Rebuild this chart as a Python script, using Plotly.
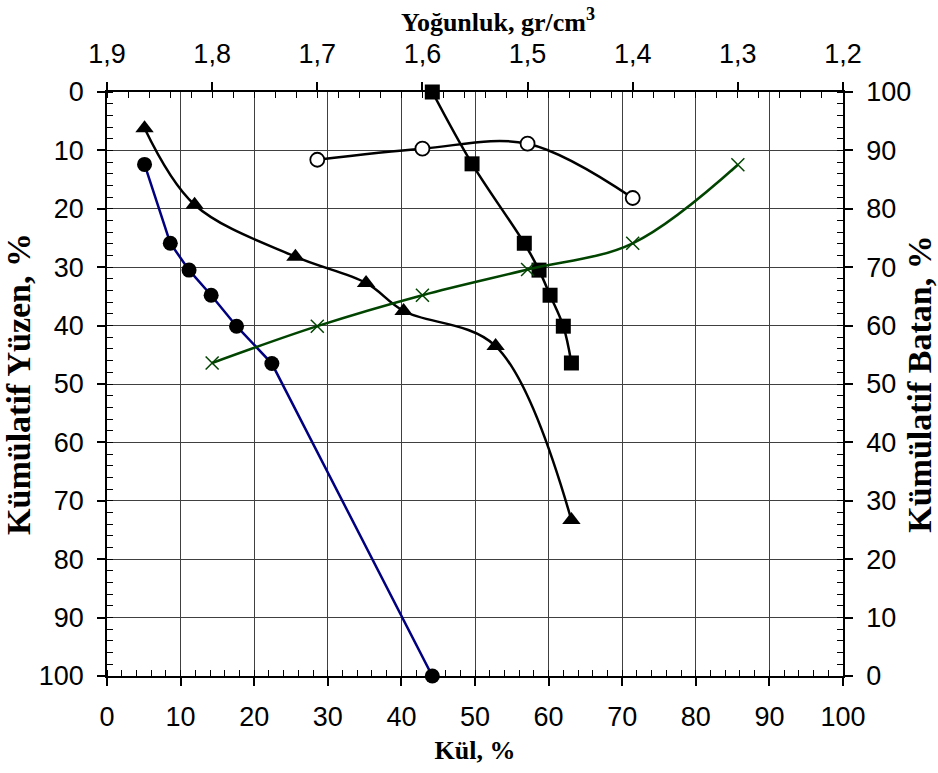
import plotly.graph_objects as go

# Float curve: cumulative ash (%) vs cumulative floats (%)
ash_float = [5.1, 8.6, 11.15, 14.15, 17.6, 22.4, 44.2]
cum_float = [12.4, 25.9, 30.5, 34.8, 40.1, 46.5, 100]

# Primary (elementary) curve: fraction ash vs mid-point of cumulative floats
ash_primary = [5.1, 11.9, 25.6, 35.2, 40.3, 52.8, 63.1]
mid_float = [6.2, 19.3, 28.2, 32.7, 37.5, 43.5, 73.3]

# Sink curve: cumulative sink ash vs cumulative sinks (right axis)
ash_sink = [44.2, 49.6, 56.7, 58.7, 60.2, 62.0, 63.1]
cum_sink = [100, 87.7, 74.1, 69.5, 65.2, 59.9, 53.6]

# Density curve: separation density vs cumulative floats
density_pts = [1.8, 1.7, 1.6, 1.5, 1.4, 1.3]
float_at_density = [46.4, 40.1, 34.8, 30.4, 25.9, 12.45]

# Near-gravity (+/-0.1) curve
near_density = [1.7, 1.6, 1.5, 1.4]
near_gravity = [11.6, 9.7, 8.85, 18.15]

# Top axis tick labels (density)
density_ticks = [1.9, 1.8, 1.7, 1.6, 1.5, 1.4, 1.3, 1.2]
density_labels = ["1,9", "1,8", "1,7", "1,6", "1,5", "1,4", "1,3", "1,2"]

BLACK_LINE = dict(color="black", width=2.5, shape="spline")

fig = go.Figure()

fig.add_trace(go.Scatter(
    x=ash_float, y=cum_float, xaxis="x", yaxis="y", mode="lines+markers",
    line=dict(color="#000080", width=2.5),
    marker=dict(symbol="circle", size=15, color="black"),
    cliponaxis=False, showlegend=False))

fig.add_trace(go.Scatter(
    x=ash_primary, y=mid_float, xaxis="x", yaxis="y", mode="lines+markers",
    line=BLACK_LINE,
    marker=dict(symbol="triangle-up", size=16, color="black"),
    cliponaxis=False, showlegend=False))

fig.add_trace(go.Scatter(
    x=ash_sink, y=cum_sink, xaxis="x", yaxis="y2", mode="lines+markers",
    line=BLACK_LINE,
    marker=dict(symbol="square", size=15, color="black"),
    cliponaxis=False, showlegend=False))

fig.add_trace(go.Scatter(
    x=density_pts, y=float_at_density, xaxis="x2", yaxis="y", mode="lines+markers",
    line=dict(color="#004400", width=2.5, shape="spline"),
    marker=dict(symbol="x-thin-open", size=13, color="#004400",
                line=dict(color="#004400", width=1.5)),
    cliponaxis=False, showlegend=False))

fig.add_trace(go.Scatter(
    x=near_density, y=near_gravity, xaxis="x2", yaxis="y", mode="lines+markers",
    line=BLACK_LINE,
    marker=dict(symbol="circle", size=14, color="white",
                line=dict(color="black", width=1.8)),
    cliponaxis=False, showlegend=False))

tick_font = dict(family="Liberation Sans, Arial", size=27, color="black")
title_font = dict(family="Liberation Serif, Times New Roman", size=26, color="black")
vtitle_font = dict(family="Liberation Serif, Times New Roman", size=34, color="black")

common = dict(
    zeroline=False, showline=True, linecolor="black", linewidth=1.5,
    ticks="outside", ticklen=8, tickwidth=1.5, tickcolor="black", tickfont=tick_font,
    ticklabelstandoff=8,
)

fig.update_layout(
    width=938, height=773,
    margin=dict(l=107, r=95, t=92, b=97, autoexpand=False),
    paper_bgcolor="white", plot_bgcolor="white",
    xaxis=dict(
        range=[0, 100], dtick=10, tick0=0, showgrid=True, gridcolor="#404040", gridwidth=1,
        minor=dict(dtick=2, tick0=0, ticks="inside", ticklen=6, tickwidth=1,
                   tickcolor="black", showgrid=False),
        title=dict(text="<b>Kül, %</b>", font=title_font, standoff=10),
        **common,
    ),
    xaxis2=dict(
        range=[1.9, 1.2], overlaying="x", side="top", anchor="y",
        tickmode="array", tickvals=density_ticks, ticktext=density_labels, showgrid=False,
        minor=dict(tickmode="linear", dtick=0.02, tick0=1.2, ticks="inside", ticklen=6,
                   tickwidth=1, tickcolor="black", showgrid=False),
        **common,
    ),
    yaxis=dict(
        range=[100, 0], dtick=10, tick0=0, showgrid=True, gridcolor="#404040", gridwidth=1,
        minor=dict(dtick=2, tick0=0, ticks="inside", ticklen=6, tickwidth=1,
                   tickcolor="black", showgrid=False),
        title=dict(text="<b>Kümülatif Yüzen, %</b>", font=vtitle_font, standoff=2),
        **common,
    ),
    yaxis2=dict(
        range=[0, 100], overlaying="y", side="right", anchor="x", dtick=10, tick0=0,
        showgrid=False,
        minor=dict(dtick=2, tick0=0, ticks="inside", ticklen=6, tickwidth=1,
                   tickcolor="black", showgrid=False),
        title=dict(text="<b>Kümülatif Batan, %</b>", font=vtitle_font, standoff=0),
        **common,
    ),
    annotations=[dict(
        text="<b>Yoğunluk, gr/cm<sup>3</sup></b>", font=title_font,
        xref="paper", yref="paper", x=0.531, y=1.123,
        xanchor="center", yanchor="middle", showarrow=False,
    )],
)

fig.write_html("out.html")
